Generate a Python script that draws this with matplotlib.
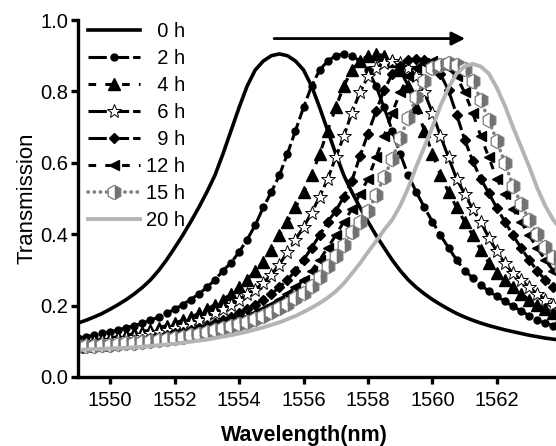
import numpy as np
import matplotlib
matplotlib.use('Agg')
import matplotlib.pyplot as plt
from matplotlib.ticker import FormatStrFormatter

plt.rcParams['font.family'] = ['Liberation Sans', 'DejaVu Sans']

# wavelength grid (nm)
wavelength = [1549.00, 1549.25, 1549.50, 1549.75, 1550.00, 1550.25, 1550.50, 1550.75, 1551.00, 1551.25,
              1551.50, 1551.75, 1552.00, 1552.25, 1552.50, 1552.75, 1553.00, 1553.25, 1553.50, 1553.75,
              1554.00, 1554.25, 1554.50, 1554.75, 1555.00, 1555.25, 1555.50, 1555.75, 1556.00, 1556.25,
              1556.50, 1556.75, 1557.00, 1557.25, 1557.50, 1557.75, 1558.00, 1558.25, 1558.50, 1558.75,
              1559.00, 1559.25, 1559.50, 1559.75, 1560.00, 1560.25, 1560.50, 1560.75, 1561.00, 1561.25,
              1561.50, 1561.75, 1562.00, 1562.25, 1562.50, 1562.75, 1563.00, 1563.25, 1563.50, 1563.75,
              1564.00]

# transmission, one list per time point
t_0h = [0.151, 0.159, 0.168, 0.178, 0.190, 0.203, 0.217, 0.233, 0.251, 0.272,
        0.298, 0.328, 0.362, 0.397, 0.435, 0.475, 0.518, 0.565, 0.625, 0.690,
        0.755, 0.815, 0.860, 0.885, 0.900, 0.905, 0.900, 0.885, 0.860, 0.815,
        0.755, 0.690, 0.625, 0.565, 0.518, 0.475, 0.435, 0.397, 0.362, 0.328,
        0.298, 0.272, 0.251, 0.233, 0.217, 0.203, 0.190, 0.178, 0.168, 0.159,
        0.151, 0.144, 0.138, 0.132, 0.127, 0.122, 0.117, 0.113, 0.109, 0.106,
        0.103]
t_2h = [0.109, 0.113, 0.117, 0.122, 0.127, 0.132, 0.138, 0.144, 0.151, 0.159,
        0.168, 0.178, 0.190, 0.203, 0.217, 0.233, 0.251, 0.272, 0.298, 0.320,
        0.350, 0.385, 0.425, 0.475, 0.518, 0.565, 0.625, 0.690, 0.755, 0.815,
        0.860, 0.885, 0.900, 0.905, 0.900, 0.885, 0.860, 0.815, 0.755, 0.690,
        0.625, 0.565, 0.518, 0.475, 0.435, 0.397, 0.362, 0.328, 0.298, 0.278,
        0.258, 0.240, 0.226, 0.212, 0.198, 0.185, 0.172, 0.159, 0.151, 0.144,
        0.138]
t_4h = [0.097, 0.100, 0.103, 0.106, 0.109, 0.113, 0.117, 0.122, 0.127, 0.132,
        0.138, 0.144, 0.151, 0.159, 0.168, 0.178, 0.190, 0.203, 0.217, 0.233,
        0.251, 0.272, 0.298, 0.322, 0.355, 0.397, 0.435, 0.475, 0.518, 0.565,
        0.625, 0.690, 0.755, 0.815, 0.860, 0.885, 0.900, 0.905, 0.900, 0.885,
        0.860, 0.815, 0.755, 0.690, 0.625, 0.565, 0.518, 0.475, 0.435, 0.397,
        0.355, 0.320, 0.290, 0.272, 0.251, 0.233, 0.217, 0.203, 0.190, 0.178,
        0.168]
t_6h = [0.092, 0.094, 0.097, 0.100, 0.103, 0.106, 0.109, 0.113, 0.117, 0.122,
        0.127, 0.132, 0.138, 0.144, 0.151, 0.159, 0.168, 0.178, 0.190, 0.203,
        0.217, 0.233, 0.245, 0.263, 0.287, 0.315, 0.350, 0.385, 0.420, 0.460,
        0.505, 0.555, 0.615, 0.675, 0.740, 0.797, 0.842, 0.865, 0.880, 0.885,
        0.880, 0.865, 0.842, 0.797, 0.740, 0.675, 0.615, 0.555, 0.513, 0.470,
        0.435, 0.390, 0.352, 0.318, 0.290, 0.272, 0.251, 0.233, 0.217, 0.203,
        0.190]
t_9h = [0.086, 0.088, 0.090, 0.092, 0.094, 0.097, 0.100, 0.103, 0.106, 0.109,
        0.113, 0.117, 0.122, 0.127, 0.132, 0.138, 0.144, 0.151, 0.159, 0.168,
        0.178, 0.190, 0.203, 0.217, 0.233, 0.251, 0.272, 0.298, 0.328, 0.362,
        0.397, 0.435, 0.465, 0.505, 0.550, 0.618, 0.682, 0.745, 0.803, 0.848,
        0.872, 0.887, 0.892, 0.887, 0.872, 0.848, 0.803, 0.735, 0.665, 0.605,
        0.555, 0.515, 0.473, 0.435, 0.397, 0.362, 0.328, 0.298, 0.272, 0.251,
        0.233]
t_12h = [0.082, 0.084, 0.086, 0.088, 0.090, 0.092, 0.094, 0.097, 0.100, 0.103,
         0.106, 0.109, 0.113, 0.117, 0.122, 0.127, 0.132, 0.138, 0.144, 0.151,
         0.159, 0.168, 0.178, 0.190, 0.203, 0.217, 0.233, 0.251, 0.272, 0.298,
         0.328, 0.362, 0.397, 0.435, 0.470, 0.513, 0.555, 0.615, 0.675, 0.740,
         0.797, 0.842, 0.865, 0.880, 0.885, 0.880, 0.865, 0.842, 0.797, 0.740,
         0.675, 0.615, 0.555, 0.513, 0.470, 0.435, 0.397, 0.362, 0.328, 0.298,
         0.272]
t_15h = [0.086, 0.087, 0.088, 0.089, 0.090, 0.092, 0.094, 0.096, 0.098, 0.100,
         0.103, 0.106, 0.109, 0.113, 0.117, 0.121, 0.126, 0.131, 0.136, 0.142,
         0.148, 0.155, 0.163, 0.172, 0.182, 0.193, 0.205, 0.220, 0.235, 0.256,
         0.280, 0.310, 0.340, 0.370, 0.405, 0.435, 0.465, 0.510, 0.560, 0.610,
         0.670, 0.725, 0.785, 0.830, 0.865, 0.875, 0.880, 0.875, 0.862, 0.830,
         0.775, 0.720, 0.660, 0.600, 0.535, 0.485, 0.440, 0.400, 0.365, 0.335,
         0.305]
t_20h = [0.076, 0.077, 0.078, 0.079, 0.080, 0.081, 0.082, 0.083, 0.085, 0.087,
         0.089, 0.091, 0.093, 0.096, 0.099, 0.102, 0.105, 0.109, 0.113, 0.117,
         0.122, 0.127, 0.133, 0.139, 0.146, 0.153, 0.162, 0.171, 0.182, 0.194,
         0.207, 0.222, 0.240, 0.262, 0.290, 0.318, 0.350, 0.380, 0.412, 0.440,
         0.480, 0.530, 0.590, 0.645, 0.700, 0.760, 0.810, 0.850, 0.870, 0.877,
         0.870, 0.850, 0.810, 0.760, 0.700, 0.645, 0.590, 0.530, 0.480, 0.440,
         0.412]

labels = ['\u20070 h', '\u20072 h', '\u20074 h', '\u20076 h', '\u20079 h', '12 h', '15 h', '20 h']
series = [t_0h, t_2h, t_4h, t_6h, t_9h, t_12h, t_15h, t_20h]

# line / marker styles per series
styles = [
    dict(color='black', lw=2.6, ls='-'),
    dict(color='black', lw=2.2, ls=(0, (6, 1.3)), marker='o', ms=5),
    dict(color='black', lw=2.2, ls=(0, (2.5, 3)), marker='^', ms=8),
    dict(color='black', lw=2.2, ls=(0, (6, 1.3)), marker='*', ms=10.5, mfc='white', mec='black', mew=0.7),
    dict(color='black', lw=2.2, ls=(0, (6, 1.3)), marker='D', ms=5.5),
    dict(color='black', lw=2.2, ls=(0, (2.5, 3)), marker='<', ms=6.5),
    dict(color='#808080', lw=2.6, ls=(0, (0.1, 1.6)), dash_capstyle='round', marker='h', ms=10.5,
         fillstyle='right', mfc='#727272', mfcalt='white', mec='#7a7a7a', mew=0.9),
    dict(color='#b4b4b4', lw=2.8, ls='-'),
]

fig = plt.figure(figsize=(5.56, 4.46), dpi=100)
ax = fig.add_axes([78 / 556, 69 / 446, 483.3 / 556, 357 / 446])

handles = []
for y, lab, st in zip(series, labels, styles):
    kw = dict(st)
    mfcalt = kw.pop('mfcalt', None)
    line, = ax.plot(wavelength, y, label=lab, **kw)
    if mfcalt is not None:
        line.set_markerfacecoloralt(mfcalt)
    handles.append(line)

# red-shift arrow
ax.annotate('', xy=(1561.1, 0.948), xytext=(1555.0, 0.948),
            arrowprops=dict(arrowstyle='-|>', color='black', lw=2, mutation_scale=20))

ax.set_xlim(1549.0, 1564.0)
ax.set_ylim(0, 1.0)
ax.set_xticks([1550, 1552, 1554, 1556, 1558, 1560, 1562])
ax.set_yticks([0.0, 0.2, 0.4, 0.6, 0.8, 1.0])
ax.yaxis.set_major_formatter(FormatStrFormatter('%.1f'))
ax.spines['top'].set_visible(False)
ax.spines['right'].set_visible(False)
for s in ['left', 'bottom']:
    ax.spines[s].set_linewidth(2.4)
ax.tick_params(direction='out', length=5, width=2.4, labelsize=14.5)
ax.tick_params(axis='x', pad=5)
ax.tick_params(axis='y', pad=2)

ax.set_xlabel('Wavelength(nm)', fontsize=15.5, fontweight='bold')
ax.xaxis.set_label_coords(0.4676, -0.135)
ax.set_ylabel('Transmission', fontsize=16)
ax.yaxis.set_label_coords(-0.083, 0.5)

leg = ax.legend(handles=handles, loc='upper left', bbox_to_anchor=(0.02, 0.995),
                frameon=False, fontsize=14.5, handlelength=2.6, handletextpad=0.3,
                labelspacing=0.4, borderpad=0, borderaxespad=0)

fig.savefig('out.png', dpi=100)
